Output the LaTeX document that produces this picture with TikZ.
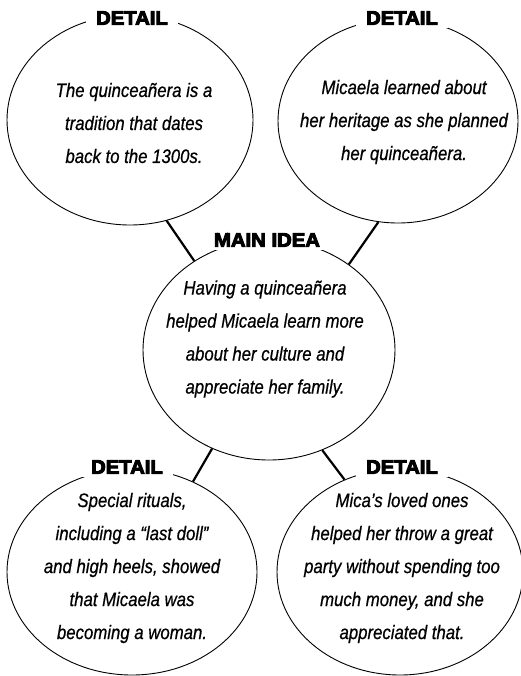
\documentclass[tikz,border=0pt]{standalone}
\usepackage{fontspec}
\setmainfont{Liberation Sans}
\newfontfamily\bodyfont{Liberation Sans}[FakeStretch=0.86,FakeBold=0.6]
\newfontfamily\headfont{Liberation Sans}[FakeStretch=1.04,FakeBold=5]
\usetikzlibrary{shapes.geometric}
\tikzset{
  oval/.style={ellipse, draw=black, line width=0.9pt, inner sep=0pt},
  body/.style={align=center, inner sep=0pt, font=\bodyfont\itshape\fontsize{19.5}{33}\selectfont},
  head/.style={fill=white, inner xsep=10pt, inner ysep=3pt, font=\headfont\bfseries\fontsize{19.5}{21}\selectfont},
  link/.style={draw=black, line width=2.2pt}
}
\begin{document}
\begin{tikzpicture}[x=1pt,y=-1pt]
\useasboundingbox (0,0) rectangle (521,676);
% ellipses
\node[oval, minimum width=246pt, minimum height=210pt] (tl) at (130,120) {};
\node[oval, minimum width=240pt, minimum height=204pt] (tr) at (398,121) {};
\node[oval, minimum width=252pt, minimum height=220pt] (mn) at (269,350) {};
\node[oval, minimum width=250pt, minimum height=206pt] (bl) at (132,572) {};
\node[oval, minimum width=246pt, minimum height=206pt] (br) at (400,572) {};
% connectors
\draw[link] (tl.-70) -- (mn.130);
\draw[link] (tr.-101) -- (mn.47);
\draw[link] (mn.-120) -- (bl.56);
\draw[link] (mn.-62) -- (br.121);
% headings
\node[head] (htl) at (132,18) {DETAIL};
\node[head] (htr) at (402,18) {DETAIL};
\node[head] (hmn) at (267,240) {MAIN IDEA};
\node[head] (hbl) at (127,467) {DETAIL};
\node[head] (hbr) at (402,467) {DETAIL};
% texts
\node[body] (ttl) at (134,123) {The quinceañera is a\\tradition that dates\\back to the 1300s.};
\node[body] (ttr) at (404,122) {Micaela learned about\\her heritage as she planned\\her quinceañera.};
\node[body] (tmn) at (265,339) {Having a quinceañera\\helped Micaela learn more\\about her culture and\\appreciate her family.};
\node[body] (tbl) at (132,568) {Special rituals,\\including a “last doll”\\and high heels, showed\\that Micaela was\\becoming a woman.};
\node[body] (tbr) at (402,568) {Mica’s loved ones\\helped her throw a great\\party without spending too\\much money, and she\\appreciated that.};
\end{tikzpicture}
\end{document}
